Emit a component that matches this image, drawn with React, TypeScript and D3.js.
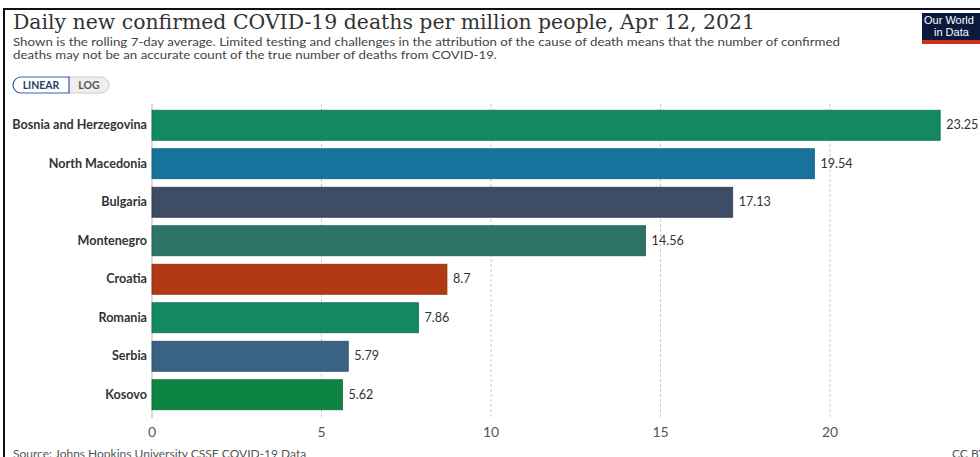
import React from "react";
import * as d3 from "d3";

const countries = ["Bosnia and Herzegovina", "North Macedonia", "Bulgaria", "Montenegro", "Croatia", "Romania", "Serbia", "Kosovo"];
const values = [23.25, 19.54, 17.13, 14.56, 8.7, 7.86, 5.79, 5.62];
const colors = ["#12895f", "#18739c", "#3e4d66", "#2c7566", "#b13a14", "#12895f", "#3a6285", "#0e8442"];
const xTicks = [0, 5, 10, 15, 20];

const W = 980, H = 457;

export default function App() {
  const x = d3.scaleLinear().domain([0, 20]).range([152, 830]);
  const y = d3.scaleBand<string>().domain(countries).range([106, 414]).paddingInner(0.22).paddingOuter(0.11);
  const font = "Lato, 'Noto Sans', sans-serif";
  return (
    <svg width={W} height={H} style={{ position: "absolute", left: 0, top: 0, background: "#fff" }}>
      <rect x={0} y={0} width={W} height={H} fill="#fff" />
      {/* frame */}
      <line x1={3} x2={W} y1={9} y2={9} stroke="#111" strokeWidth={2} />
      <line x1={4} x2={4} y1={8} y2={H} stroke="#111" strokeWidth={2} />
      <text x={13} y={29} fontFamily="'DejaVu Serif', serif" fontSize={20} fill="#333" textLength={742} lengthAdjust="spacingAndGlyphs">
        Daily new confirmed COVID-19 deaths per million people, Apr 12, 2021
      </text>
      <text x={13} y={45.5} fontFamily={font} fontSize={11.6} fill="#444" textLength={827} lengthAdjust="spacingAndGlyphs">
        Shown is the rolling 7-day average. Limited testing and challenges in the attribution of the cause of death means that the number of confirmed
      </text>
      <text x={13} y={59} fontFamily={font} fontSize={11.6} fill="#444" textLength={484} lengthAdjust="spacingAndGlyphs">
        deaths may not be an accurate count of the true number of deaths from COVID-19.
      </text>
      {/* toggle */}
      <path d="M69,77 H101 A8,8 0 0 1 101,93 H69 Z" fill="#eee" stroke="#ccc" strokeWidth={1} />
      <path d="M69,77 H21 A8,8 0 0 0 21,93 H69 Z" fill="#fff" stroke="#3b5ea8" strokeWidth={1.2} />
      <text x={41} y={89} textAnchor="middle" fontFamily={font} fontSize={10.5} fontWeight={700} fill="#2b3f6b">LINEAR</text>
      <text x={89} y={89} textAnchor="middle" fontFamily={font} fontSize={10.5} fontWeight={700} fill="#555">LOG</text>
      {/* logo */}
      <rect x={922} y={13} width={60} height={31} fill="#0a1a3e" />
      <rect x={922} y={40} width={60} height={4} fill="#d42b22" />
      <text x={924} y={24} fontFamily="'Liberation Sans', Arial, sans-serif" fontSize={11} fill="#fff">Our World</text>
      <text x={934} y={36} fontFamily="'Liberation Sans', Arial, sans-serif" fontSize={11} fill="#fff">in Data</text>
      {/* grid */}
      {xTicks.map((t) => (
        <line key={t} x1={x(t)} x2={x(t)} y1={104} y2={418} stroke={t === 0 ? "#bbb" : "#ccc"} strokeWidth={1} strokeDasharray={t === 0 ? undefined : "3,2"} />
      ))}
      {xTicks.map((t) => (
        <text key={"l" + t} x={x(t)} y={437} textAnchor="middle" fontFamily={font} fontSize={14} fill="#555">{t}</text>
      ))}
      {countries.map((c, i) => {
        const yy = y(c)!;
        const bw = y.bandwidth();
        return (
          <g key={c}>
            <rect x={x(0)} y={yy} width={x(values[i]) - x(0)} height={bw} fill={colors[i]} stroke={d3.color(colors[i])!.darker(0.6).toString()} strokeWidth={0.8} />
            <text x={147} y={yy + bw / 2 + 4} textAnchor="end" fontFamily={font} fontSize={12.6} fontWeight={700} fill="#333">{c}</text>
            <text x={x(values[i]) + 6} y={yy + bw / 2 + 4} fontFamily={font} fontSize={12.6} fill="#333">{values[i]}</text>
          </g>
        );
      })}
      <text x={13} y={458} fontFamily={font} fontSize={12} fill="#555">Source: Johns Hopkins University CSSE COVID-19 Data</text>
      <text x={952} y={458} fontFamily={font} fontSize={12} fill="#555">CC BY</text>
    </svg>
  );
}
